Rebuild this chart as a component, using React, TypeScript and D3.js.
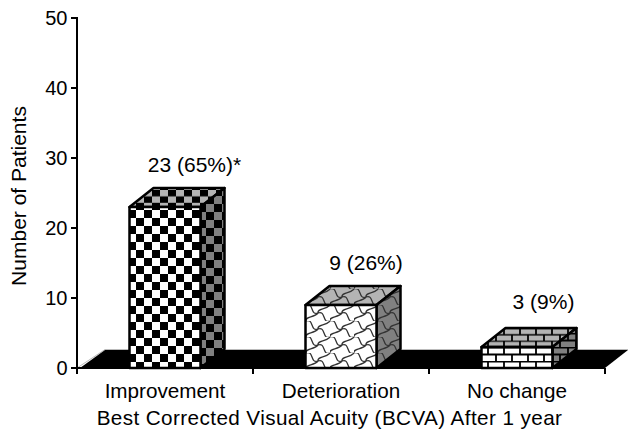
import React from "react";
import * as d3 from "d3";

const categories = ["Improvement", "Deterioration", "No change"];
const values = [23, 9, 3];
const valueLabels = ["23 (65%)*", "9 (26%)", "3 (9%)"];
const yTicks = [0, 10, 20, 30, 40, 50];
const patternIds = ["check", "weave", "brick"];
const yTitle = "Number of Patients";
const xTitle = "Best Corrected Visual Acuity (BCVA) After 1 year";

const y = d3.scaleLinear().domain([0, 50]).range([368, 18]);
const x = d3.scaleBand().domain(categories).range([77, 605]).paddingInner(0).paddingOuter(0);
const barW = 71;
const dx = 24;
const dy = -19;
const font = "'Liberation Sans', Arial, sans-serif";

const checkOrigins: Record<string, string> = {
  front: "translate(128,210)",
  top: "translate(152,190) scale(1,0.8)",
  side: "translate(206,212)",
};
const shades = [
  { key: "front", bg: "#ffffff" },
  { key: "top", bg: "#b4b4b4" },
  { key: "side", bg: "#808080" },
];

const Patterns = () => (
  <defs>
    {shades.map((s) => (
      <React.Fragment key={s.key}>
        <pattern id={`check-${s.key}`} width={16} height={16} patternUnits="userSpaceOnUse" patternTransform={checkOrigins[s.key]}>
          <rect width={16} height={16} fill={s.bg} />
          <rect x={0} y={0} width={8} height={8} fill="#000" />
          <rect x={8} y={8} width={8} height={8} fill="#000" />
        </pattern>
        <pattern id={`weave-${s.key}`} width={24} height={16} patternUnits="userSpaceOnUse" patternTransform="translate(306,305)">
          <rect width={24} height={16} fill={s.bg} />
          <path
            d="M0,0 C8,-3 4,11 12,8 C20,5 16,19 24,16 M12,8 C11,3 20,5 24,0 M0,16 C-1,11 8,13 12,8"
            fill="none"
            stroke="#333"
            strokeWidth={1.3}
          />
        </pattern>
        <pattern id={`brick-${s.key}`} width={16} height={14} patternUnits="userSpaceOnUse" patternTransform={s.key === "top" ? "translate(484,328) scale(1,0.9)" : "translate(484,347)"}>
          <rect width={16} height={14} fill={s.bg} />
          <path d="M0,0.5H16 M0,7.5H16 M4,0V7 M12,7V14" fill="none" stroke="#000" strokeWidth={1.8} />
        </pattern>
      </React.Fragment>
    ))}
  </defs>
);

export default function App() {
  const base = y(0);
  const x0r = x.range()[0];
  const x1r = x.range()[1];
  return (
    <svg
      width={628}
      height={431}
      style={{ position: "absolute", left: 0, top: 0, background: "#fff" }}
      fontFamily={font}
      fill="#000"
    >
      <Patterns />
      {/* floor */}
      <line x1={x0r + 28} x2={628} y1={349.5} y2={349.5} stroke="#bbb" strokeWidth={1} />
      <line x1={x0r} x2={x0r + 28} y1={base} y2={349.5} stroke="#bbb" strokeWidth={1} />
      <polygon points={`${x0r + 3},${base} ${x0r + 28},350 628,350 ${x1r},${base}`} fill="#000" />
      {/* y axis */}
      <line x1={77} x2={77} y1={y(50) - 1} y2={base + 6} stroke="#000" strokeWidth={2} />
      {yTicks.map((t) => (
        <g key={t}>
          <line x1={71} x2={77} y1={y(t)} y2={y(t)} stroke="#000" strokeWidth={2} />
          <text x={67.5} y={y(t) + 7} textAnchor="end" fontSize={20}>
            {t}
          </text>
        </g>
      ))}
      {/* x axis */}
      <line x1={77} x2={605} y1={base} y2={base} stroke="#000" strokeWidth={2} />
      {[...categories.map((c) => x(c)!), x1r].map((p, i) => (
        <line key={i} x1={p} x2={p} y1={base} y2={base + 6} stroke="#000" strokeWidth={2} />
      ))}
      {/* bars */}
      {categories.map((c, i) => {
        const x0 = x(c)! + (x.bandwidth() - barW) / 2;
        const x1 = x0 + barW;
        const yt = y(values[i]);
        const p = patternIds[i];
        return (
          <g key={c} stroke="#000" strokeWidth={2.5} strokeLinejoin="round">
            <polygon points={`${x0},${yt} ${x0 + dx},${yt + dy} ${x1 + dx},${yt + dy} ${x1},${yt}`} fill={`url(#${p}-top)`} />
            <polygon points={`${x1},${yt} ${x1 + dx},${yt + dy} ${x1 + dx},${base + dy} ${x1},${base}`} fill={`url(#${p}-side)`} />
            <rect x={x0} y={yt} width={barW} height={base - yt} fill={`url(#${p}-front)`} />
          </g>
        );
      })}
      {/* value labels */}
      {categories.map((c, i) => (
        <text
          key={c}
          x={x(c)! + x.bandwidth() / 2 + (i === 0 ? 29.5 : i === 1 ? 25 : 26.5)}
          y={y(values[i]) + dy - (i === 0 ? 16 : i === 1 ? 16 : 19)}
          textAnchor="middle"
          fontSize={21}
        >
          {valueLabels[i]}
        </text>
      ))}
      {/* category labels */}
      {categories.map((c) => (
        <text key={c} x={x(c)! + x.bandwidth() / 2} y={398} textAnchor="middle" fontSize={20.7}>
          {c}
        </text>
      ))}
      <text x={329.5} y={425} textAnchor="middle" fontSize={20.7} letterSpacing={0.4}>
        {xTitle}
      </text>
      <text transform="translate(26,196) rotate(-90)" textAnchor="middle" fontSize={21}>
        {yTitle}
      </text>
    </svg>
  );
}
